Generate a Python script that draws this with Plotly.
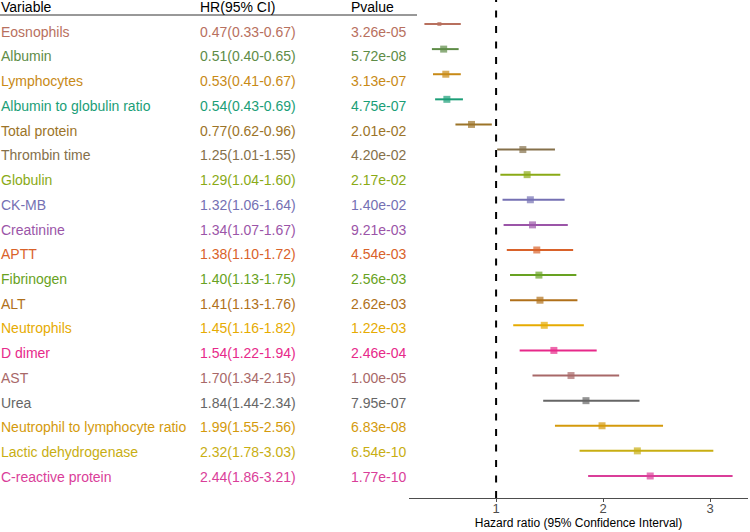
import plotly.graph_objects as go

variables = ["Eosnophils", "Albumin", "Lymphocytes", "Albumin to globulin ratio",
             "Total protein", "Thrombin time", "Globulin", "CK-MB", "Creatinine",
             "APTT", "Fibrinogen", "ALT", "Neutrophils", "D dimer", "AST", "Urea",
             "Neutrophil to lymphocyte ratio", "Lactic dehydrogenase", "C-reactive protein"]
hr = [0.47, 0.51, 0.53, 0.54, 0.77, 1.25, 1.29, 1.32, 1.34, 1.38, 1.40, 1.41,
      1.45, 1.54, 1.70, 1.84, 1.99, 2.32, 2.44]
lower = [0.33, 0.40, 0.41, 0.43, 0.62, 1.01, 1.04, 1.06, 1.07, 1.10, 1.13, 1.13,
         1.16, 1.22, 1.34, 1.44, 1.55, 1.78, 1.86]
upper = [0.67, 0.65, 0.67, 0.69, 0.96, 1.55, 1.60, 1.64, 1.67, 1.72, 1.75, 1.76,
         1.82, 1.94, 2.15, 2.34, 2.56, 3.03, 3.21]
pvalues = ["3.26e-05", "5.72e-08", "3.13e-07", "4.75e-07", "2.01e-02", "4.20e-02",
           "2.17e-02", "1.40e-02", "9.21e-03", "4.54e-03", "2.56e-03", "2.62e-03",
           "1.22e-03", "2.46e-04", "1.00e-05", "7.95e-07", "6.83e-08", "6.54e-10",
           "1.77e-10"]
x_ticks = [1, 2, 3]

colors = ["#B8705E", "#5E8C47", "#C88A16", "#1B9E77", "#9C7428", "#85704A",
          "#8AAA16", "#7570B3", "#9B55A8", "#D9622A", "#68A222", "#B0701A",
          "#E6AB02", "#E7298A", "#A86868", "#666666", "#D49A0C", "#C8AE12",
          "#DA3E99"]
marker_sizes = [4] + [7] * (len(variables) - 1)

FONT = "Liberation Sans, Arial, sans-serif"
n = len(variables)
rows = list(range(1, n + 1))

fig = go.Figure()

# CI lines
for i in range(n):
    fig.add_trace(go.Scatter(
        x=[lower[i], upper[i]], y=[rows[i], rows[i]], mode="lines",
        line=dict(color=colors[i], width=2), hoverinfo="skip", showlegend=False))

# point estimates
fig.add_trace(go.Scatter(
    x=hr, y=rows, mode="markers",
    marker=dict(symbol="square", size=marker_sizes, color=colors, line=dict(width=0)),
    showlegend=False))

# invisible trace to register yaxis2 (table rows)
fig.add_trace(go.Scatter(x=[1], y=[0], yaxis="y2", mode="markers",
                         marker=dict(opacity=0), showlegend=False, hoverinfo="skip"))

fig.add_vline(x=1, line=dict(color="black", width=2, dash="7px,8.5px"))

# table
col_x = [1, 200, 351]
W = 750
headers = ["Variable", "HR(95% CI)", "Pvalue"]
for cx, h in zip(col_x, headers):
    fig.add_annotation(x=(cx - 2) / W, xref="paper", y=0, yref="y2", text=h,
                       showarrow=False, xanchor="left", yanchor="middle",
                       font=dict(family=FONT, size=14, color="black"))
for i in range(n):
    hr_txt = f"{hr[i]:.2f}({lower[i]:.2f}-{upper[i]:.2f})"
    for cx, t in zip(col_x, [variables[i], hr_txt, pvalues[i]]):
        fig.add_annotation(x=(cx - 2) / W, xref="paper", y=rows[i], yref="y2", text=t,
                           showarrow=False, xanchor="left", yanchor="middle",
                           font=dict(family=FONT, size=14, color=colors[i]))

# header underline
fig.add_shape(type="line", xref="paper", yref="paper", x0=0, x1=417 / W,
              y0=1 - 15 / 498, y1=1 - 15 / 498, line=dict(color="#333333", width=1))

fig.update_layout(
    width=750, height=532,
    margin=dict(l=0, r=0, t=0, b=34),
    plot_bgcolor="white", paper_bgcolor="white",
    font=dict(family=FONT),
    xaxis=dict(domain=[409 / W, 748 / W], range=[0.186, 3.354],
               tickvals=x_ticks, ticktext=[str(v) for v in x_ticks],
               showgrid=False, zeroline=False, showline=True, linecolor="#4D4D4D",
               linewidth=1, ticks="outside", ticklen=3, tickcolor="#4D4D4D",
               ticklabelstandoff=-5,
               tickfont=dict(size=13, color="#4D4D4D", family=FONT),
               title=dict(text="Hazard ratio (95% Confidence Interval)",
                          font=dict(size=12, color="black", family=FONT), standoff=2),
               automargin=False),
    yaxis=dict(range=[19.877, 0.044], visible=False, showgrid=False, zeroline=False),
    yaxis2=dict(range=[19.86, -0.283], visible=False, overlaying="y", showgrid=False,
                zeroline=False),
)

fig.write_html("out.html", config={"displayModeBar": False},
               post_script="document.body.style.margin='0px';")
